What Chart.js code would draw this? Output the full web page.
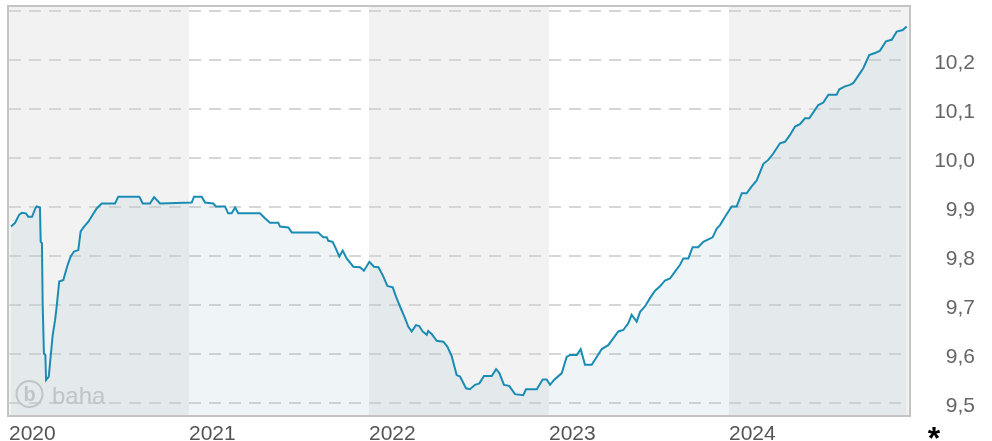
<!DOCTYPE html>
<html>
<head>
<meta charset="utf-8">
<script src="https://cdn.jsdelivr.net/npm/chart.js@4/dist/chart.umd.min.js"></script>
<style>
html,body{margin:0;padding:0;background:#fff;}
#wrap{position:relative;width:992px;height:441px;}
</style>
</head>
<body>
<div id="wrap"><canvas id="c" width="992" height="441"></canvas></div>
<script>
// ---- data (decimal years / fund price) ----
const dates = [
2020.011,2020.033,2020.056,2020.071,2020.094,2020.107,2020.128,2020.146,2020.154,2020.172,
2020.176,2020.183,2020.187,2020.194,2020.202,2020.206,2020.221,2020.228,2020.243,2020.256,
2020.265,2020.279,2020.302,2020.317,2020.329,2020.343,2020.361,2020.385,2020.398,2020.417,
2020.441,2020.465,2020.487,2020.515,2020.589,2020.607,2020.724,2020.743,2020.783,2020.806,
2020.839,2021.015,2021.028,2021.071,2021.089,2021.135,2021.150,2021.200,2021.218,2021.237,
2021.256,2021.274,2021.394,2021.422,2021.450,2021.496,2021.506,2021.552,2021.571,2021.718,
2021.746,2021.765,2021.774,2021.798,2021.811,2021.835,2021.854,2021.876,2021.913,2021.950,
2021.972,2022.002,2022.028,2022.052,2022.076,2022.102,2022.132,2022.150,2022.172,2022.200,
2022.218,2022.237,2022.261,2022.279,2022.298,2022.321,2022.329,2022.348,2022.376,2022.413,
2022.435,2022.459,2022.487,2022.506,2022.539,2022.561,2022.589,2022.613,2022.639,2022.682,
2022.706,2022.724,2022.750,2022.779,2022.811,2022.857,2022.872,2022.932,2022.965,2022.987,
2023.006,2023.028,2023.071,2023.098,2023.117,2023.154,2023.176,2023.200,2023.237,2023.265,
2023.293,2023.329,2023.357,2023.385,2023.413,2023.441,2023.459,2023.487,2023.506,2023.533,
2023.561,2023.589,2023.617,2023.644,2023.672,2023.700,2023.728,2023.746,2023.774,2023.798,
2023.829,2023.857,2023.885,2023.909,2023.932,2023.950,2023.978,2024.015,2024.043,2024.071,
2024.098,2024.126,2024.154,2024.191,2024.218,2024.246,2024.283,2024.311,2024.339,2024.367,
2024.394,2024.422,2024.446,2024.472,2024.496,2024.524,2024.552,2024.598,2024.613,2024.644,
2024.672,2024.691,2024.728,2024.746,2024.779,2024.811,2024.839,2024.872,2024.904,2024.932,
2024.965,2024.987
];
const navValues = [
9.860,9.867,9.884,9.888,9.887,9.880,9.880,9.897,9.901,9.899,
9.829,9.826,9.703,9.601,9.598,9.547,9.554,9.582,9.639,9.669,
9.697,9.748,9.751,9.771,9.785,9.799,9.809,9.812,9.850,9.860,
9.870,9.884,9.897,9.907,9.907,9.921,9.921,9.907,9.907,9.920,
9.907,9.909,9.921,9.921,9.909,9.907,9.901,9.901,9.887,9.887,
9.899,9.887,9.887,9.877,9.868,9.868,9.860,9.858,9.848,9.848,
9.838,9.838,9.831,9.829,9.819,9.799,9.811,9.795,9.778,9.777,
9.770,9.788,9.778,9.777,9.761,9.739,9.736,9.717,9.697,9.673,
9.656,9.646,9.659,9.657,9.646,9.639,9.647,9.641,9.627,9.625,
9.615,9.596,9.557,9.554,9.530,9.528,9.537,9.540,9.555,9.555,
9.569,9.561,9.537,9.535,9.518,9.516,9.528,9.528,9.548,9.548,
9.537,9.547,9.561,9.594,9.598,9.598,9.610,9.578,9.578,9.594,
9.610,9.618,9.632,9.646,9.649,9.663,9.680,9.666,9.686,9.697,
9.714,9.729,9.738,9.750,9.754,9.768,9.782,9.795,9.795,9.818,
9.818,9.829,9.834,9.838,9.856,9.863,9.880,9.901,9.901,9.928,
9.928,9.942,9.954,9.988,9.996,10.009,10.030,10.033,10.047,10.064,
10.069,10.081,10.081,10.095,10.108,10.113,10.129,10.129,10.140,10.146,
10.149,10.153,10.173,10.183,10.210,10.214,10.219,10.238,10.241,10.258,
10.261,10.268
];
const yearTicks = [2020, 2021, 2022, 2023, 2024, 2025];
const shadedYears = [2020, 2022, 2024];
const yTicks = [9.5, 9.6, 9.7, 9.8, 9.9, 10.0, 10.1, 10.2, 10.3];
const yLabelMax = 10.2;
const xMin = 2020, xMax = 2025;
const yMin = 9.4755, yMax = 10.308;

const FONT = "'Liberation Sans', Arial, sans-serif";

const bandsPlugin = {
  id: 'bands',
  beforeDraw(chart) {
    const {ctx, chartArea: a, scales: {x}} = chart;
    ctx.save();
    ctx.fillStyle = '#ffffff';
    ctx.fillRect(a.left, a.top, a.right - a.left, a.bottom - a.top);
    ctx.fillStyle = '#f2f2f2';
    shadedYears.forEach(yr => {
      const x0 = Math.max(a.left, x.getPixelForValue(yr));
      const x1 = Math.min(a.right, x.getPixelForValue(yr + 1));
      ctx.fillRect(x0, a.top, x1 - x0, a.bottom - a.top);
    });
    ctx.restore();
  },
  beforeDatasetsDraw(chart) {
    const {ctx, chartArea: a} = chart;
    // watermark
    ctx.save();
    ctx.strokeStyle = '#c8c8c8';
    ctx.fillStyle = '#c8c8c8';
    ctx.lineWidth = 2;
    const cx = a.left + 20.5, cy = a.bottom - 21;
    ctx.beginPath(); ctx.arc(cx, cy, 13, 0, Math.PI * 2); ctx.stroke();
    ctx.font = 'bold 20px ' + FONT;
    ctx.textAlign = 'center'; ctx.textBaseline = 'middle';
    ctx.fillText('b', cx, cy + 1);
    ctx.font = '24px ' + FONT;
    ctx.textAlign = 'left'; ctx.textBaseline = 'alphabetic';
    ctx.fillText('baha', a.left + 43, a.bottom - 11);
    ctx.restore();
  },
  afterDraw(chart) {
    const {ctx, chartArea: a} = chart;
    ctx.save();
    ctx.strokeStyle = '#c4c4c4';
    ctx.lineWidth = 2;
    ctx.strokeRect(a.left - 1, a.top - 1, a.right - a.left + 2, a.bottom - a.top + 2);
    // asterisk note
    ctx.fillStyle = '#000';
    ctx.font = 'bold 32px ' + FONT;
    ctx.textAlign = 'center'; ctx.textBaseline = 'alphabetic';
    const m = ctx.measureText('*');
    const base = 433 + (m.actualBoundingBoxAscent - m.actualBoundingBoxDescent) / 2;
    ctx.fillText('*', 934, base);
    ctx.restore();
  }
};

new Chart(document.getElementById('c'), {
  type: 'line',
  data: {
    datasets: [{
      data: dates.map((d, i) => ({x: d, y: navValues[i]})),
      borderColor: '#1a8cb4',
      borderWidth: 2,
      pointRadius: 0,
      tension: 0,
      fill: 'start',
      backgroundColor: 'rgba(145,190,203,0.15)'
    }]
  },
  options: {
    responsive: false,
    animation: false,
    events: [],
    layout: {padding: {left: 9, top: 7, right: 17, bottom: 0}},
    plugins: {legend: {display: false}, tooltip: {enabled: false}},
    scales: {
      x: {
        type: 'linear',
        min: xMin, max: xMax,
        afterBuildTicks: s => { s.ticks = yearTicks.map(v => ({value: v})); },
        afterFit: s => { s.height = 26; s.paddingLeft = 0; s.paddingRight = 0; },
        grid: {display: false, drawTicks: false},
        border: {display: false},
        ticks: {
          align: 'start',
          padding: 7,
          maxRotation: 0,
          autoSkip: false,
          color: '#555',
          font: {family: FONT, size: 21},
          callback: v => (v >= xMax ? '' : String(v))
        }
      },
      y: {
        position: 'right',
        min: yMin, max: yMax,
        afterBuildTicks: s => { s.ticks = yTicks.map(v => ({value: v})); },
        afterFit: s => { s.width = 66; s.paddingTop = 0; s.paddingBottom = 0; },
        grid: {color: '#d6d6d6', lineWidth: 2, drawTicks: false},
        border: {display: false, dash: [12, 8]},
        ticks: {
          crossAlign: 'far',
          padding: 8,
          labelOffset: 3,
          color: '#666',
          font: {family: FONT, size: 21},
          callback: v => (v > yLabelMax + 1e-9 ? '' : v.toFixed(1).replace('.', ','))
        }
      }
    }
  },
  plugins: [bandsPlugin]
});
</script>
</body>
</html>
